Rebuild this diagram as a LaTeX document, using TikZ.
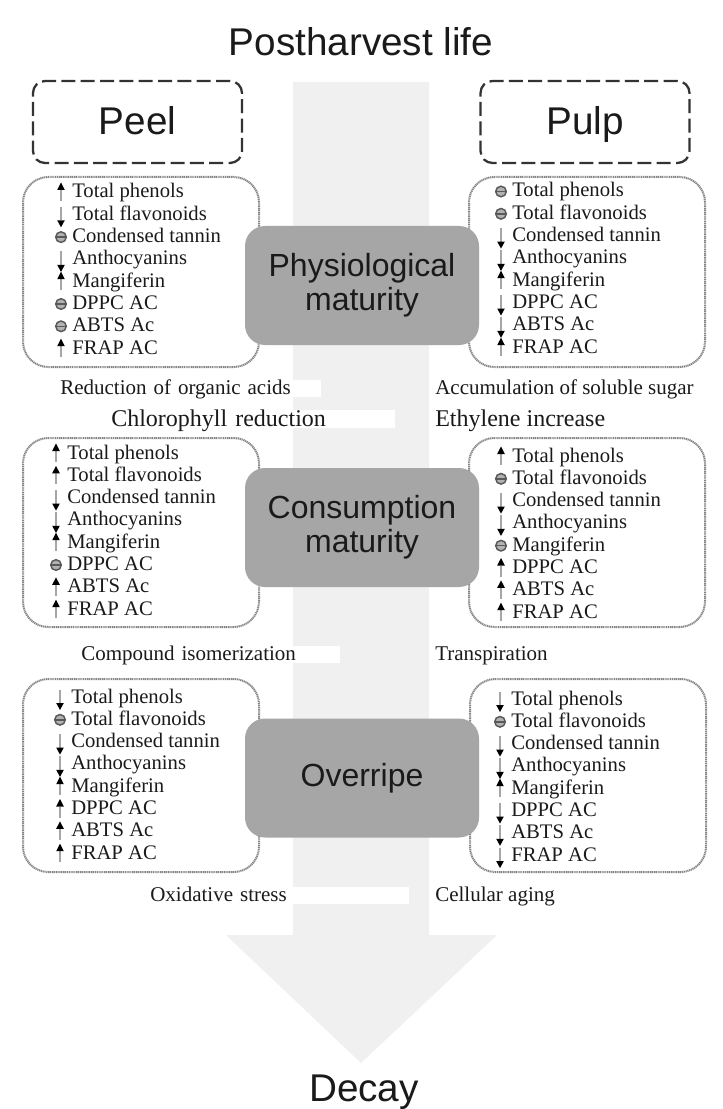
\documentclass[tikz,border=0pt]{standalone}
\usepackage{fontspec}
\setmainfont{Liberation Serif}
\newfontfamily\headfont{Liberation Sans}
\usepackage{tikz}
\definecolor{shaftgray}{HTML}{F0F0F0}
\definecolor{stagegray}{HTML}{A6A6A6}
\definecolor{dotgray}{HTML}{858585}
\definecolor{ink}{HTML}{1A1A1A}

\tikzset{
  pics/rise/.style={code={
    \fill[black!35] (-1.2,3) rectangle (1.2,-8);
    \fill[black] (-3.8,-8) -- (3.8,-8) -- (0,-15.5) -- cycle;}},
  pics/fall/.style={code={
    \fill[black!35] (-1.2,-13.5) rectangle (1.2,0);
    \fill[black] (-3.8,0) -- (3.8,0) -- (0,7) -- cycle;}},
  pics/same/.style={code={
    \filldraw[draw=black!65,fill=black!30,line width=1.1pt] (0,-5.5) circle[radius=5.3];
    \draw[black!65,line width=1.1pt] (-5.3,-5.5) -- (5.3,-5.5);}}
}

% one column of markers, #1 x, #2 first baseline, #3 node prefix
\newcommand{\itemcolumn}[4]{%
  \foreach \ico/\txt [count=\i from 0] in {#4}{
    \pic at (#1-11,#2+22.3*\i) {\ico};
    \node[item] (#3\i) at (#1,#2+22.3*\i) {\txt};
  }}

\begin{document}
\begin{tikzpicture}[x=0.75pt,y=-0.75pt,
    heading/.style={inner sep=0,text=ink,font=\headfont\fontsize{29}{33}\selectfont},
    part/.style={heading,draw=black!80,line width=1.7pt,dash pattern=on 10.5pt off 4pt,
      rounded corners=9pt,minimum width=156.75pt,minimum height=61.5pt,
      text height=19.5pt,text depth=0pt},
    cell/.style={draw=dotgray,line width=1.5pt,dash pattern=on 0.9pt off 0.5pt,
      rounded corners=19pt,fill=white,minimum width=177pt,inner sep=0},
    stage/.style={fill=stagegray,rounded corners=15pt,minimum width=175.5pt,
      minimum height=89.25pt,inner sep=0,align=center,text=ink,
      font=\headfont\fontsize{24}{25.5}\selectfont},
    item/.style={anchor=base west,inner sep=0,text=ink,
      font=\fontsize{15.5}{18}\selectfont},
    note/.style={anchor=base west,inner sep=0,text=ink,
      font=\fontsize{15.75}{18}\selectfont},
    bignote/.style={note,font=\fontsize{18}{21}\selectfont},
    mask/.style={fill=white,align=left,text height=10.5pt,text depth=2.25pt}]
  \fill[white] (0,0) rectangle (722,1109);
  \useasboundingbox (0,0) rectangle (722,1109);

  % time arrow
  \fill[shaftgray] (293,82) -- (429,82) -- (429,935) -- (497,935) -- (361,1063)
    -- (226,935) -- (293,935) -- cycle;

  \node[heading,anchor=base] (start) at (361,56) {Postharvest life};
  \node[heading,anchor=base] (decay) at (364,1101) {Decay};

  \node[part] (peel) at (137.5,122) {Peel};
  \node[part] (pulp) at (585,122) {Pulp};

  % boxes
  \node[cell,minimum height=142.5pt] (peelA) at (141,272) {};
  \node[cell,minimum height=142.5pt] (pulpA) at (587,272) {};
  \node[cell,minimum height=141.75pt] (peelB) at (141,532.5) {};
  \node[cell,minimum height=141.75pt] (pulpB) at (587,532.5) {};
  \node[cell,minimum height=144.75pt] (peelC) at (141,775.5) {};
  \node[cell,minimum height=144.75pt] (pulpC) at (588,775.5) {};

  \node[stage] (physio) at (362,285.5) {Physiological\\maturity};
  \node[stage] (consum) at (362,527.5) {Consumption\\maturity};
  \node[stage] (overripe) at (362,778) {Overripe};

  \itemcolumn{72}{198}{tl}{rise/Total phenols, fall/Total flavonoids,
    same/Condensed tannin, fall/Anthocyanins, rise/Mangiferin,
    same/DPPC AC, same/ABTS Ac, rise/FRAP AC}
  \itemcolumn{512}{197}{tr}{same/Total phenols, same/Total flavonoids,
    fall/Condensed tannin, fall/Anthocyanins, rise/Mangiferin,
    fall/DPPC AC, fall/ABTS Ac, rise/FRAP AC}
  \itemcolumn{67}{459}{ml}{rise/Total phenols, rise/Total flavonoids,
    fall/Condensed tannin, fall/Anthocyanins, rise/Mangiferin,
    same/DPPC AC, rise/ABTS Ac, rise/FRAP AC}
  \itemcolumn{512}{462}{mr}{rise/Total phenols, same/Total flavonoids,
    fall/Condensed tannin, fall/Anthocyanins, same/Mangiferin,
    rise/DPPC AC, rise/ABTS Ac, rise/FRAP AC}
  \itemcolumn{71}{703}{bl}{fall/Total phenols, same/Total flavonoids,
    fall/Condensed tannin, fall/Anthocyanins, rise/Mangiferin,
    rise/DPPC AC, rise/ABTS Ac, rise/FRAP AC}
  \itemcolumn{511}{705}{br}{fall/Total phenols, same/Total flavonoids,
    fall/Condensed tannin, fall/Anthocyanins, rise/Mangiferin,
    fall/DPPC AC, fall/ABTS Ac, fall/FRAP AC}

  % processes between the stages
  \node[note,mask,text width=195.75pt] (acids) at (60,394) {Reduction of organic acids};
  \node[bignote,mask,text width=213pt,text height=12pt,text depth=1.5pt]
    (chloro) at (111,426) {Chlorophyll reduction};
  \node[note] (sugar) at (435,394) {Accumulation of soluble sugar};
  \node[bignote] (ethyl) at (435,426) {Ethylene increase};
  \node[note,mask,text width=194.25pt] (isomer) at (81,660) {Compound isomerization};
  \node[note] (transp) at (435,660) {Transpiration};
  \node[note,mask,text width=194.25pt] (oxid) at (150,901) {Oxidative stress};
  \node[note] (aging) at (435,901) {Cellular aging};
\end{tikzpicture}
\end{document}
